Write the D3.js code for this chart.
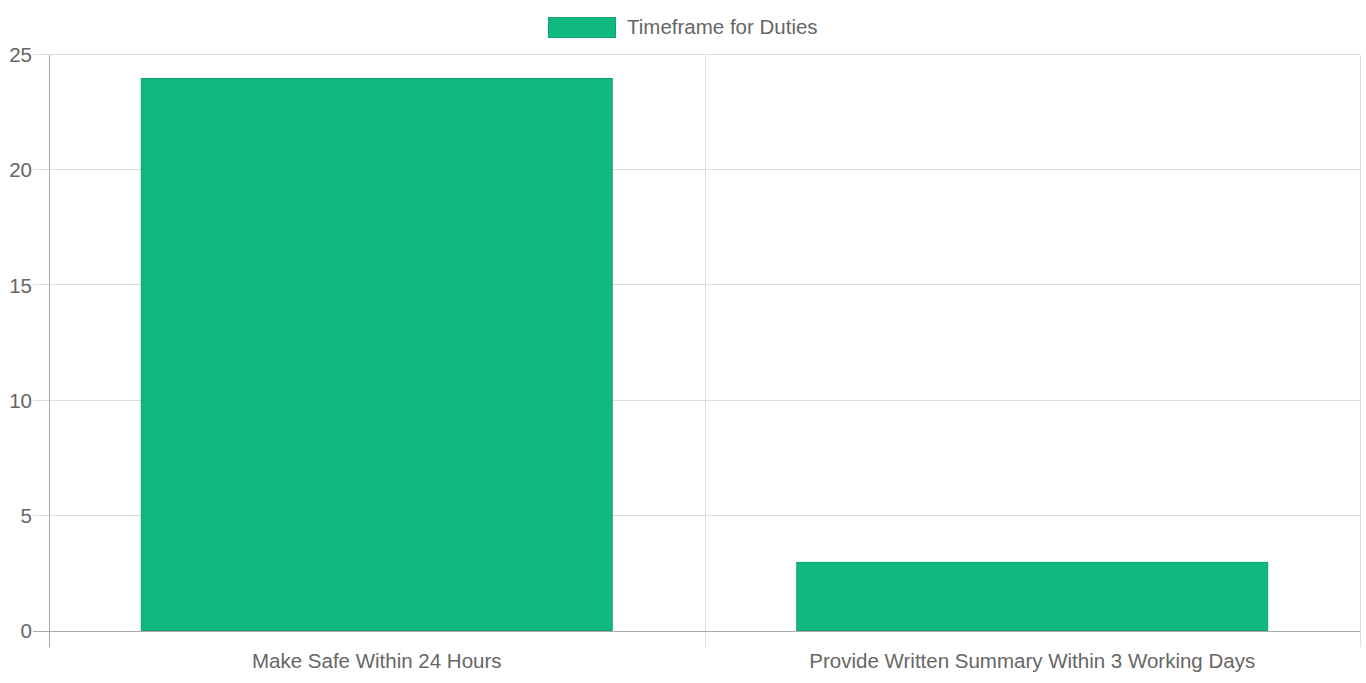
<!DOCTYPE html>
<html>
<head>
<meta charset="utf-8">
<script src="https://cdn.jsdelivr.net/npm/d3@7"></script>
<style>
  html, body { margin: 0; padding: 0; background: #fff; }
  svg { display: block; font-family: "Liberation Sans", Arial, Helvetica, sans-serif; }
</style>
</head>
<body>
<svg id="chart"></svg>
<script>
const categories = ['Make Safe Within 24 Hours', 'Provide Written Summary Within 3 Working Days'];
const values = [24, 3];
const seriesName = 'Timeframe for Duties';
const yTicks = [0, 5, 10, 15, 20, 25];

const width = 1366;
const height = 683;
const margin = { top: 55, right: 6, bottom: 52, left: 49 };
const tickLen = 16;
const fontSize = 20.5;

const svg = d3.select('#chart')
  .attr('width', width)
  .attr('height', height);

const x = d3.scaleBand()
  .domain(categories)
  .range([margin.left, width - margin.right])
  .padding(0);

const y = d3.scaleLinear()
  .domain([0, 25])
  .range([height - margin.bottom, margin.top]);

const gridColor = '#dedede';
const axisColor = '#aaaaaa';
const textColor = '#666';
const barFill = '#10b981';
const barStroke = '#0ea371';

// horizontal grid lines + ticks
svg.append('g')
  .selectAll('line')
  .data(yTicks.filter(d => d !== 0))
  .enter()
  .append('line')
  .attr('x1', margin.left - tickLen)
  .attr('x2', width - margin.right)
  .attr('y1', d => Math.round(y(d)) - 0.5)
  .attr('y2', d => Math.round(y(d)) - 0.5)
  .attr('stroke', gridColor);

// vertical grid lines at category edges
const edges = categories.map(c => x(c)).concat([x.range()[1]]);
svg.append('g')
  .selectAll('line')
  .data(edges.slice(1))
  .enter()
  .append('line')
  .attr('x1', d => Math.round(d) + 0.5)
  .attr('x2', d => Math.round(d) + 0.5)
  .attr('y1', margin.top)
  .attr('y2', height - margin.bottom + tickLen)
  .attr('stroke', gridColor);

// bars (border drawn inside the bar like Chart.js)
const barWidth = x.bandwidth() * 0.72;
svg.append('g')
  .selectAll('rect')
  .data(values)
  .enter()
  .append('rect')
  .attr('x', (d, i) => x(categories[i]) + (x.bandwidth() - barWidth) / 2 + 0.5)
  .attr('y', d => y(d) + 0.5)
  .attr('width', barWidth - 1)
  .attr('height', d => y(0) - y(d) - 1)
  .attr('fill', barFill)
  .attr('stroke', barStroke)
  .attr('stroke-width', 1);

// zero line and y axis line
svg.append('line')
  .attr('x1', margin.left - tickLen)
  .attr('x2', width - margin.right)
  .attr('y1', Math.round(y(0)) + 0.5)
  .attr('y2', Math.round(y(0)) + 0.5)
  .attr('stroke', axisColor);

svg.append('line')
  .attr('x1', margin.left + 0.5)
  .attr('x2', margin.left + 0.5)
  .attr('y1', margin.top)
  .attr('y2', height - margin.bottom + tickLen)
  .attr('stroke', axisColor);

// y tick labels
svg.append('g')
  .selectAll('text')
  .data(yTicks)
  .enter()
  .append('text')
  .attr('x', margin.left - tickLen - 1)
  .attr('y', d => y(d))
  .attr('dy', '0.35em')
  .attr('text-anchor', 'end')
  .attr('font-size', fontSize)
  .attr('fill', textColor)
  .text(d => d);

// x category labels
svg.append('g')
  .selectAll('text')
  .data(categories)
  .enter()
  .append('text')
  .attr('x', d => x(d) + x.bandwidth() / 2)
  .attr('y', height - margin.bottom + 37)
  .attr('text-anchor', 'middle')
  .attr('font-size', fontSize)
  .attr('fill', textColor)
  .text(d => d);

// legend, centred on the whole canvas
const legend = svg.append('g');
const legendText = legend.append('text')
  .attr('y', 27)
  .attr('dy', '0.35em')
  .attr('font-size', fontSize)
  .attr('fill', textColor)
  .text(seriesName);
const tw = legendText.node().getComputedTextLength();
const boxW = 68, gap = 11;
const total = boxW + gap + tw;
const lx = Math.round(width / 2 - total / 2);
legend.insert('rect', 'text')
  .attr('x', lx + 0.5)
  .attr('y', 17.5)
  .attr('width', boxW - 1)
  .attr('height', 20)
  .attr('fill', barFill)
  .attr('stroke', barStroke);
legendText.attr('x', lx + boxW + gap);
</script>
</body>
</html>
